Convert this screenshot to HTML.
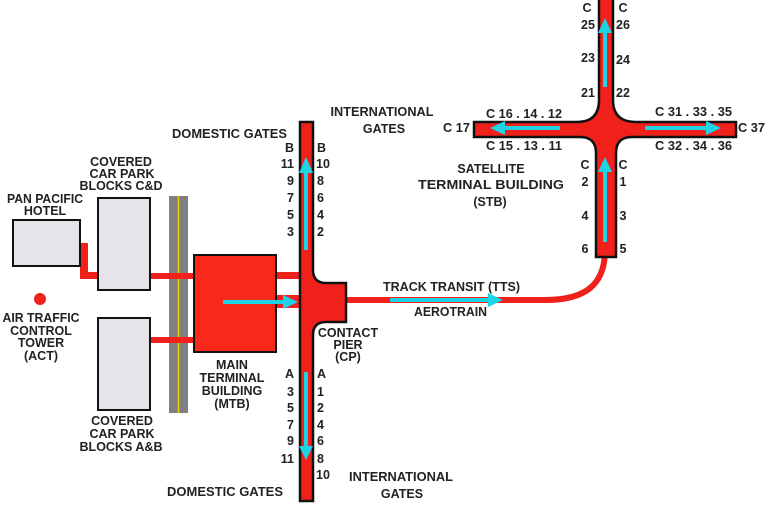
<!DOCTYPE html>
<html><head><meta charset="utf-8"><style>
html,body{margin:0;padding:0;background:#fff;}
svg{display:block;}
text{font-family:"Liberation Sans",Arial,sans-serif;font-weight:bold;font-size:12.5px;fill:#222;}
</style></head><body>
<svg width="768" height="521" viewBox="0 0 768 521" xmlns="http://www.w3.org/2000/svg">
<rect width="768" height="521" fill="#fff"/>
<!-- road -->
<rect x="169" y="196" width="19" height="217" fill="#808080"/>
<line x1="178.5" y1="196" x2="178.5" y2="413" stroke="#e8d400" stroke-width="1.5"/>
<!-- red connectors -->
<rect x="80" y="243" width="8" height="36" fill="#f0201a"/>
<rect x="80" y="272" width="18" height="7" fill="#f0201a"/>
<rect x="150" y="273" width="44" height="6" fill="#f0201a"/>
<rect x="150" y="337" width="44" height="6" fill="#f0201a"/>
<rect x="275" y="272" width="25" height="7" fill="#f0201a"/>
<rect x="275" y="295" width="25" height="13" fill="#f0201a"/>
<!-- TTS track -->
<path d="M344,300 H545 C585,300 605,285 605,250" fill="none" stroke="#f0201a" stroke-width="6"/>
<!-- hotel & car parks -->
<rect x="13" y="220" width="67" height="46" fill="#e4e4ea" stroke="#111" stroke-width="2"/>
<rect x="98" y="198" width="52" height="92" fill="#e4e4ea" stroke="#111" stroke-width="2"/>
<rect x="98" y="318" width="52" height="92" fill="#e4e4ea" stroke="#111" stroke-width="2"/>
<!-- ATC dot -->
<circle cx="40" cy="299" r="6" fill="#f0201a"/>
<!-- MTB -->
<rect x="194" y="255" width="82" height="97" fill="#f8281a" stroke="#111" stroke-width="2"/>
<!-- main pier -->
<path d="M300,122 H313 V270 Q313,283 326,283 H346 V322 H326 Q313,322 313,335 V501 H300 Z" fill="#f0201a" stroke="#111" stroke-width="2.5"/>
<!-- STB cross -->
<path d="M599,-3 H613 V100 Q613,122 636,122 H736 V137 H632 Q616,137 616,153 V257 H596 V153 Q596,137 580,137 H474 V122 H577 Q599,122 599,100 Z" fill="#f0201a" stroke="#111" stroke-width="2.5"/>
<!-- cyan arrows -->
<g fill="#1cd4e6" stroke="none">
<rect x="304" y="170" width="4" height="80"/>
<polygon points="306,157 299,173 313,173"/>
<rect x="304" y="372" width="4" height="76"/>
<polygon points="306,460 299,446 313,446"/>
<rect x="223" y="300" width="62" height="4"/>
<polygon points="298,302 283,295 283,309"/>
<rect x="390" y="298" width="100" height="4"/>
<polygon points="503,300 488,293 488,307"/>
<rect x="503" y="126" width="57" height="4"/>
<polygon points="490,128 505,121 505,135"/>
<rect x="645" y="126" width="62" height="4"/>
<polygon points="721,128 706,121 706,135"/>
<rect x="603" y="31" width="4" height="56"/>
<polygon points="605,18 598,33 612,33"/>
<rect x="603" y="170" width="4" height="72"/>
<polygon points="605,157 598,172 612,172"/>
</g>
<!-- left labels -->
<g text-anchor="middle">
<text x="45" y="203" textLength="76" lengthAdjust="spacingAndGlyphs">PAN PACIFIC</text>
<text x="45" y="215">HOTEL</text>
<text x="121" y="166">COVERED</text>
<text x="122" y="178">CAR PARK</text>
<text x="121" y="190" textLength="83" lengthAdjust="spacingAndGlyphs">BLOCKS C&amp;D</text>
<text x="41" y="322" textLength="77" lengthAdjust="spacingAndGlyphs">AIR TRAFFIC</text>
<text x="41" y="335">CONTROL</text>
<text x="41" y="347">TOWER</text>
<text x="41" y="360">(ACT)</text>
<text x="122" y="425">COVERED</text>
<text x="122" y="438">CAR PARK</text>
<text x="121" y="451" textLength="83" lengthAdjust="spacingAndGlyphs">BLOCKS A&amp;B</text>
<text x="232" y="369">MAIN</text>
<text x="232" y="382" textLength="65" lengthAdjust="spacingAndGlyphs">TERMINAL</text>
<text x="232" y="395">BUILDING</text>
<text x="232" y="408">(MTB)</text>
<text x="348" y="337">CONTACT</text>
<text x="348" y="349">PIER</text>
<text x="348" y="361">(CP)</text>
<text x="382" y="116" textLength="103" lengthAdjust="spacingAndGlyphs">INTERNATIONAL</text>
<text x="384" y="133">GATES</text>
<text x="401" y="481" textLength="104" lengthAdjust="spacingAndGlyphs">INTERNATIONAL</text>
<text x="402" y="498">GATES</text>
<text x="491" y="173">SATELLITE</text>
<text x="491" y="189" textLength="146" lengthAdjust="spacingAndGlyphs">TERMINAL BUILDING</text>
<text x="490" y="206">(STB)</text>
</g>
<text x="172" y="138" textLength="115" lengthAdjust="spacingAndGlyphs">DOMESTIC GATES</text>
<text x="167" y="496" textLength="116" lengthAdjust="spacingAndGlyphs">DOMESTIC GATES</text>
<text x="383" y="291" textLength="137" lengthAdjust="spacingAndGlyphs">TRACK TRANSIT (TTS)</text>
<text x="414" y="316" textLength="73" lengthAdjust="spacingAndGlyphs">AEROTRAIN</text>
<!-- pier labels -->
<g text-anchor="end">
<text x="294" y="152">B</text><text x="294" y="168">11</text><text x="294" y="185">9</text><text x="294" y="202">7</text><text x="294" y="219">5</text><text x="294" y="236">3</text>
<text x="294" y="378">A</text><text x="294" y="396">3</text><text x="294" y="412">5</text><text x="294" y="429">7</text><text x="294" y="445">9</text><text x="294" y="463">11</text>
</g>
<g text-anchor="start">
<text x="317" y="152">B</text><text x="316" y="168">10</text><text x="317" y="185">8</text><text x="317" y="202">6</text><text x="317" y="219">4</text><text x="317" y="236">2</text>
<text x="317" y="378">A</text><text x="317" y="396">1</text><text x="317" y="412">2</text><text x="317" y="429">4</text><text x="317" y="445">6</text><text x="317" y="463">8</text><text x="316" y="479">10</text>
</g>
<!-- STB labels -->
<g text-anchor="middle">
<text x="587" y="12">C</text><text x="623" y="12">C</text>
<text x="588" y="29">25</text><text x="623" y="29">26</text>
<text x="588" y="62">23</text><text x="623" y="64">24</text>
<text x="588" y="97">21</text><text x="623" y="97">22</text>
<text x="585" y="169">C</text><text x="623" y="169">C</text>
<text x="585" y="186">2</text><text x="623" y="186">1</text>
<text x="585" y="220">4</text><text x="623" y="220">3</text>
<text x="585" y="253">6</text><text x="623" y="253">5</text>
</g>
<text x="486" y="118" textLength="76" lengthAdjust="spacingAndGlyphs">C 16 . 14 . 12</text>
<text x="486" y="150" textLength="76" lengthAdjust="spacingAndGlyphs">C 15 . 13 . 11</text>
<text x="655" y="116" textLength="77" lengthAdjust="spacingAndGlyphs">C 31 . 33 . 35</text>
<text x="655" y="150" textLength="77" lengthAdjust="spacingAndGlyphs">C 32 . 34 . 36</text>
<text x="443" y="132" textLength="27" lengthAdjust="spacingAndGlyphs">C 17</text>
<text x="738" y="132" textLength="27" lengthAdjust="spacingAndGlyphs">C 37</text>
</svg>
</body></html>
